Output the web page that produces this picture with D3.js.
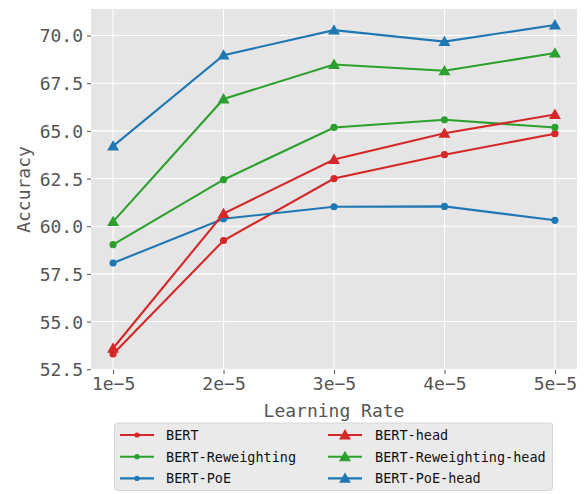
<!DOCTYPE html>
<html>
<head>
<meta charset="utf-8">
<script src="https://cdn.jsdelivr.net/npm/d3@7"></script>
<style>
  html, body { margin: 0; padding: 0; background: #fff; }
  svg { display: block; }
</style>
</head>
<body>
<div id="chart"></div>
<script>
// learning rates on the x axis
const rates = [1, 2, 3, 4, 5]
const rateLabels = ['1e\u22125', '2e\u22125', '3e\u22125', '4e\u22125', '5e\u22125']
const yTicks = [52.5, 55.0, 57.5, 60.0, 62.5, 65.0, 67.5, 70.0]

// accuracy per model
const bert = [53.3, 59.25, 62.5, 63.75, 64.85]
const bertReweighting = [59.03, 62.44, 65.18, 65.58, 65.18]
const bertPoE = [58.07, 60.39, 61.02, 61.04, 60.31]
const bertHead = [53.6, 60.66, 63.5, 64.87, 65.86]
const bertReweightingHead = [60.24, 66.67, 68.48, 68.15, 69.08]
const bertPoEHead = [64.2, 68.97, 70.28, 69.68, 70.55]

const seriesNames = ['BERT', 'BERT-Reweighting', 'BERT-PoE', 'BERT-head', 'BERT-Reweighting-head', 'BERT-PoE-head']

const red = '#d62728', green = '#2ca02c', blue = '#1f77b4'
const series = [
  { name: seriesNames[0], values: bert, color: red, marker: 'dot' },
  { name: seriesNames[1], values: bertReweighting, color: green, marker: 'dot' },
  { name: seriesNames[2], values: bertPoE, color: blue, marker: 'dot' },
  { name: seriesNames[3], values: bertHead, color: red, marker: 'tri' },
  { name: seriesNames[4], values: bertReweightingHead, color: green, marker: 'tri' },
  { name: seriesNames[5], values: bertPoEHead, color: blue, marker: 'tri' }
]

const width = 585, height = 494
const margin = { left: 91, right: 8, top: 9, bottom: 124 }
const font = '"DejaVu Sans Mono", "Liberation Mono", monospace'

const svg = d3.select('#chart').append('svg')
  .attr('width', width)
  .attr('height', height)

const x = d3.scaleLinear().domain([0.8, 5.2]).range([margin.left, width - margin.right])
const y = d3.scaleLinear().domain([52.46, 71.39]).range([height - margin.bottom, margin.top])

// axes background
svg.append('rect')
  .attr('x', margin.left)
  .attr('y', margin.top)
  .attr('width', x.range()[1] - x.range()[0])
  .attr('height', y.range()[0] - y.range()[1])
  .attr('fill', '#e5e5e5')

// grid
const grid = svg.append('g').attr('stroke', '#fff').attr('stroke-width', 1.1)
grid.selectAll('line.gx').data(rates).join('line')
  .attr('x1', d => x(d)).attr('x2', d => x(d))
  .attr('y1', y.range()[1]).attr('y2', y.range()[0])
grid.selectAll('line.gy').data(yTicks).join('line')
  .attr('x1', x.range()[0]).attr('x2', x.range()[1])
  .attr('y1', d => y(d)).attr('y2', d => y(d))

// y axis
const yAxis = svg.append('g')
  .attr('transform', `translate(${margin.left},0)`)
  .call(d3.axisLeft(y).tickValues(yTicks).tickFormat(d3.format('.1f')).tickSize(4).tickPadding(4))
yAxis.select('.domain').remove()
yAxis.selectAll('.tick line').attr('stroke', '#555')
yAxis.selectAll('.tick text')
  .attr('fill', '#555')
  .style('font-family', font)
  .style('font-size', '18px')
  .attr('dy', '0.36em')

// x axis
const xAxis = svg.append('g')
  .attr('transform', `translate(0,${y.range()[0]})`)
  .call(d3.axisBottom(x).tickValues(rates).tickFormat((d, i) => rateLabels[i]).tickSize(4).tickPadding(3))
xAxis.select('.domain').remove()
xAxis.selectAll('.tick line').attr('stroke', '#555')
xAxis.selectAll('.tick text')
  .attr('fill', '#555')
  .style('font-family', font)
  .style('font-size', '18px')

svg.append('text')
  .attr('x', (x.range()[0] + x.range()[1]) / 2)
  .attr('y', 417)
  .attr('text-anchor', 'middle')
  .attr('fill', '#555')
  .style('font-family', font)
  .style('font-size', '18px')
  .text('Learning Rate')

svg.append('text')
  .attr('transform', `translate(30,${(y.range()[0] + y.range()[1]) / 2}) rotate(-90)`)
  .attr('text-anchor', 'middle')
  .attr('fill', '#555')
  .style('font-family', font)
  .style('font-size', '18px')
  .text('Accuracy')

const line = d3.line().x((d, i) => x(rates[i])).y(d => y(d))
const tri = d3.symbol().type(d3.symbolTriangle).size(62)

function drawMarker(g, s, cx, cy, r) {
  if (s.marker === 'dot') {
    g.append('circle').attr('cx', cx).attr('cy', cy).attr('r', r || 3.6).attr('fill', s.color)
  } else {
    g.append('path').attr('d', tri()).attr('transform', `translate(${cx},${cy + 1})`).attr('fill', s.color)
  }
}

const plot = svg.append('g')
series.forEach(s => {
  const g = plot.append('g')
  g.append('path')
    .attr('d', line(s.values))
    .attr('fill', 'none')
    .attr('stroke', s.color)
    .attr('stroke-width', 2.1)
  s.values.forEach((v, i) => drawMarker(g, s, x(rates[i]), y(v)))
})

// legend
const legend = svg.append('g')
legend.append('rect')
  .attr('x', 114.5).attr('y', 423)
  .attr('width', 438).attr('height', 67.5)
  .attr('rx', 3)
  .attr('fill', '#eaeaea')
  .attr('stroke', '#d6d6d6')
  .attr('stroke-width', 1)

series.forEach((s, i) => {
  const col = Math.floor(i / 3), row = i % 3
  const lx = col === 0 ? 120 : 328
  const ly = 435 + row * 21.7
  const g = legend.append('g')
  g.append('line')
    .attr('x1', lx).attr('x2', lx + 34)
    .attr('y1', ly).attr('y2', ly)
    .attr('stroke', s.color).attr('stroke-width', 2.1)
  drawMarker(g, s, lx + 17, ly, 2.6)
  g.append('text')
    .attr('x', col === 0 ? 166 : 375)
    .attr('y', ly)
    .attr('dy', '0.36em')
    .attr('fill', '#111')
    .style('font-family', font)
    .style('font-size', '13.5px')
    .text(s.name)
})
</script>
</body>
</html>
